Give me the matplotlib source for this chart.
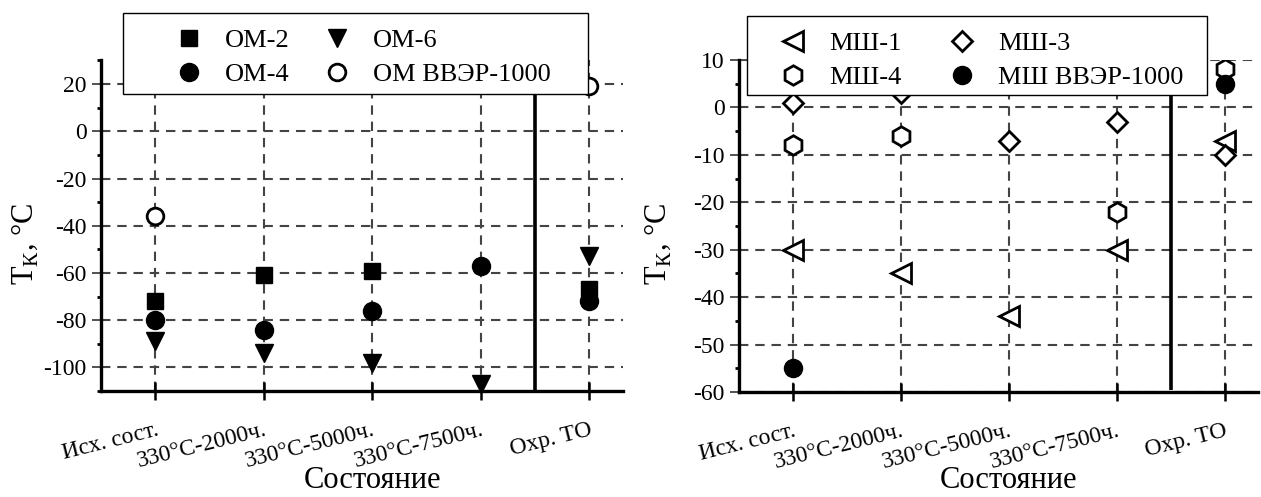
import numpy as np
import matplotlib
matplotlib.use('Agg')
import matplotlib.pyplot as plt
from matplotlib.patches import Rectangle
from matplotlib.ticker import MultipleLocator

plt.rcParams['font.family'] = ['Liberation Serif', 'DejaVu Serif']
plt.rcParams['mathtext.fontset'] = 'custom'
plt.rcParams['mathtext.rm'] = 'Liberation Serif'
plt.rcParams['axes.unicode_minus'] = False

states = ['Исх. сост.', '330°C-2000ч.', '330°C-5000ч.', '330°C-7500ч.', 'Охр. ТО']

# left panel: ОМ
om2 = [-72, -61, -59, np.nan, -67]
om4 = [-80, -84, -76, -57, -72]
om6 = [-89, -94, -98, -107, -53]
om_vver = [-36, np.nan, np.nan, np.nan, 19]

# right panel: МШ
msh1 = [-30, -35, -44, -30, -7]
msh3 = [1, 3, -7, -3, -10]
msh4 = [-8, -6, np.nan, -22, 8]
msh_vver = [-55, np.nan, np.nan, np.nan, 5]

W, H = 1261, 497
fig = plt.figure(figsize=(W / 100, H / 100), dpi=100)


def px_axes(x0, y0, x1, y1):
    return fig.add_axes([x0 / W, 1 - y1 / H, (x1 - x0) / W, (y1 - y0) / H])


def style(ax, ylim, major, minor):
    x = np.arange(len(states))
    ax.set_xlim(-0.5, 4.31)
    ax.set_ylim(*ylim)
    ax.set_xticks(x)
    ax.set_xticklabels(states, rotation=14, ha='right', va='top',
                       rotation_mode='anchor', fontsize=17)
    ax.yaxis.set_major_locator(MultipleLocator(major))
    ax.yaxis.set_minor_locator(MultipleLocator(minor))
    for s in ['top', 'right']:
        ax.spines[s].set_visible(False)
    for s in ['left', 'bottom']:
        ax.spines[s].set_linewidth(2.4)
    ax.tick_params(axis='x', which='major', direction='inout', length=13,
                   width=1.8, pad=14)
    ax.tick_params(axis='y', which='major', direction='inout', length=13,
                   width=1.3, color='#444444', labelsize=17, pad=4)
    ax.tick_params(axis='y', which='minor', direction='out', length=3, width=2)
    ax.grid(True, which='major', color='#444444', lw=1.5,
            linestyle=(0, (4.5, 3.3)))
    ax.set_axisbelow(True)
    ax.set_ylabel(r'Т$_{\mathrm{К}}$, °С', fontsize=22)
    ax.set_xlabel('Состояние', fontsize=22, va='baseline')


x = np.arange(len(states))

# ---- left
ax1 = px_axes(101, 60, 623, 391)
style(ax1, (-110, 30.2), 20, 10)
ax1.yaxis.set_label_coords(-0.117, 0.444)
ax1.xaxis.set_label_coords(0.52, -0.293)
ax1.plot(x, om6, ls='none', marker='v', ms=13.5, color='black', zorder=3, clip_on=False, label='ОМ-6')
ax1.plot(x, om2, ls='none', marker='s', ms=12, color='black', zorder=3.1, label='ОМ-2')
ax1.plot(x, om4, ls='none', marker='o', ms=13, color='black', zorder=3.2, label='ОМ-4')
ax1.plot(x, om_vver, ls='none', marker='o', ms=12, mfc='white', mec='black',
         mew=2, zorder=3.3, label='ОМ ВВЭР-1000')
ax1.plot([3.5, 3.5], [-110, 23.8], color='black', lw=2.6, zorder=7, solid_capstyle='butt')

fig.patches.append(Rectangle((123 / W, 1 - 94 / H), 465 / W, 81 / H,
                             transform=fig.transFigure, facecolor='white',
                             edgecolor='black', lw=1, zorder=4))
h, l = ax1.get_legend_handles_labels()
order = [1, 2, 0, 3]
leg1 = fig.legend([h[i] for i in order], [l[i] for i in order], ncol=2,
                  loc='upper left', bbox_to_anchor=(176 / W, 1 - 29 / H),
                  frameon=False, fontsize=19, borderpad=0, borderaxespad=0,
                  handlelength=1.0, handletextpad=0.86, columnspacing=1.3,
                  labelspacing=0.38)
leg1.set_zorder(5)

# ---- right
ax2 = px_axes(739, 60, 1258, 392)
style(ax2, (-60, 10), 10, 5)
ax2.yaxis.set_label_coords(-0.128, 0.446)
ax2.xaxis.set_label_coords(0.52, -0.29)
ax2.plot(x, msh1, ls='none', marker='<', ms=14, mfc='white', mec='black', mew=2, zorder=3, label='МШ-1')
ax2.plot(x, msh3, ls='none', marker='D', ms=10, mfc='white', mec='black', mew=2, zorder=3.1, label='МШ-3')
ax2.plot(x, msh4, ls='none', marker='h', ms=14, mfc='white', mec='black', mew=2, zorder=3.2, label='МШ-4')
ax2.plot(x, msh_vver, ls='none', marker='o', ms=13, color='black', zorder=3.3, label='МШ ВВЭР-1000')
ax2.plot([3.5, 3.5], [-59.5, 6.4], color='black', lw=2.6, zorder=7, solid_capstyle='butt')

fig.patches.append(Rectangle((747 / W, 1 - 95 / H), 460 / W, 79 / H,
                             transform=fig.transFigure, facecolor='white',
                             edgecolor='black', lw=1, zorder=4))
h, l = ax2.get_legend_handles_labels()
order = [0, 2, 1, 3]
leg2 = fig.legend([h[i] for i in order], [l[i] for i in order], ncol=2,
                  loc='upper left', bbox_to_anchor=(780 / W, 1 - 32 / H),
                  frameon=False, fontsize=19, borderpad=0, borderaxespad=0,
                  handlelength=1.0, handletextpad=0.86, columnspacing=1.8,
                  labelspacing=0.38)
leg2.set_zorder(5)

fig.savefig('out.png', dpi=100)
